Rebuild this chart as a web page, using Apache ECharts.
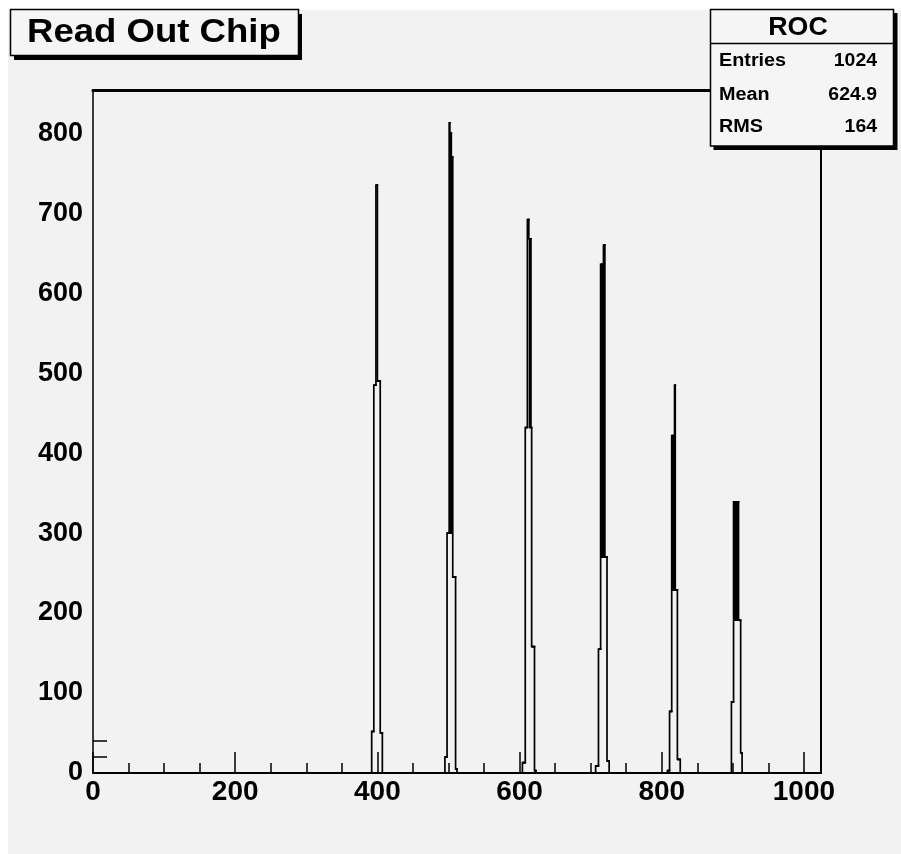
<!DOCTYPE html>
<html>
<head>
<meta charset="utf-8">
<script src="https://cdn.jsdelivr.net/npm/echarts@6/dist/echarts.min.js"></script>
<style>
html, body { margin: 0; padding: 0; background: #ffffff; }
#chart { width: 901px; height: 854px; }
</style>
</head>
<body>
<div id="chart"></div>
<script>
// ---- chart text ----
const titleText = 'Read Out Chip';
const statsTitle = 'ROC';
const statsLabels = ['Entries', 'Mean', 'RMS'];
const statsValues = ['1024', '624.9', '164'];

// ---- axes ----
const xRange = [0, 1024];
const yRange = [0, 854];
const xTickLabels = [0, 200, 400, 600, 800, 1000];
const yTickLabels = [0, 100, 200, 300, 400, 500, 600, 700, 800];
const yShortTicks = [20, 40];
const xMinorStep = 50;

// ---- histogram bins (1 unit wide), each peak: first bin and its counts ----
const peakStarts = [392, 495, 604, 707, 808, 898];
const peak400 = [52, 52, 52, 485, 485, 485, 735, 735, 490, 490, 490, 490, 50, 50, 50];
const peak500 = [20, 20, 20, 300, 300, 300, 813, 300, 800, 300, 770, 245, 245, 245, 245, 5, 5];
const peak600 = [13, 13, 13, 13, 432, 432, 432, 692, 692, 668, 432, 668, 432, 158, 158, 158, 158, 3, 3];
const peak700 = [9, 9, 9, 9, 155, 155, 155, 636, 270, 636, 270, 660, 660, 270, 270, 270, 15, 15, 15];
const peak800 = [3, 3, 3, 77, 77, 77, 422, 229, 422, 229, 485, 229, 229, 229, 17, 17, 17, 17];
const peak900 = [89, 89, 89, 339, 191, 339, 191, 339, 191, 339, 191, 191, 191, 25, 25];
const peaks = [peak400, peak500, peak600, peak700, peak800, peak900];

const nBins = xRange[1] - xRange[0];
const counts = new Array(nBins + 1).fill(0);
peaks.forEach((p, i) => p.forEach((v, j) => { counts[peakStarts[i] + j] = v; }));
// one row per bin: [low edge, high edge, count, previous bin count]
const binRows = [];
for (let i = 0; i <= nBins; i++) {
  const prev = i > 0 ? counts[i - 1] : 0;
  const c = i < nBins ? counts[i] : 0;
  if (c !== 0 || prev !== 0) binRows.push([xRange[0] + i, xRange[0] + i + 1, c, prev]);
}

const xMinor = [];
for (let v = xMinorStep; v < 1000; v += xMinorStep) if (xTickLabels.indexOf(v) < 0) xMinor.push(v);

const FONT = 'Liberation Sans, Arial, Helvetica, sans-serif';
const gridRect = { left: 93, top: 90, right: 80, bottom: 81 };

function renderBin(params, api) {
  const lo = api.value(0), hi = api.value(1), c = api.value(2), prev = api.value(3);
  const pPrev = api.coord([lo, prev]);
  const pLo = api.coord([lo, c]);
  const pts = [pPrev, pLo];
  if (c !== 0 && hi <= xRange[1]) pts.push(api.coord([hi, c]));
  return {
    type: 'polyline',
    shape: { points: pts },
    style: { stroke: '#000', lineWidth: 1.7, fill: null, lineCap: 'square', lineJoin: 'miter' },
    silent: true
  };
}

const chart = echarts.init(document.getElementById('chart'), null, { renderer: 'canvas' });

const rowY = [61, 95, 127];
const option = {
  animation: false,
  backgroundColor: '#ffffff',
  grid: [
    Object.assign({ show: false }, gridRect),
    Object.assign({ show: false }, gridRect)
  ],
  xAxis: [
    {
      gridIndex: 0, type: 'value', min: xRange[0], max: xRange[1], position: 'bottom',
      axisLine: { show: true, onZero: false, lineStyle: { color: '#000', width: 2 } },
      axisTick: { show: true, inside: true, length: 21, customValues: xTickLabels, lineStyle: { color: '#000', width: 1.5 } },
      axisLabel: { show: true, customValues: xTickLabels, formatter: v => String(v), color: '#000', fontWeight: 'bold', fontSize: 28, fontFamily: FONT, margin: 5 },
      splitLine: { show: false }
    },
    {
      gridIndex: 0, type: 'value', min: xRange[0], max: xRange[1], position: 'top',
      axisLine: { show: true, onZero: false, lineStyle: { color: '#000', width: 3 } },
      axisTick: { show: false }, axisLabel: { show: false }, splitLine: { show: false }
    },
    {
      gridIndex: 1, type: 'value', min: xRange[0], max: xRange[1], position: 'bottom',
      axisLine: { show: false },
      axisTick: { show: true, inside: true, length: 10, customValues: xMinor, lineStyle: { color: '#000', width: 1.5 } },
      axisLabel: { show: false }, splitLine: { show: false }
    }
  ],
  yAxis: [
    {
      gridIndex: 0, type: 'value', min: yRange[0], max: yRange[1], position: 'left',
      axisLine: { show: true, onZero: false, lineStyle: { color: '#000', width: 1.5 } },
      axisTick: { show: false },
      axisLabel: { show: true, customValues: yTickLabels, formatter: v => String(v), color: '#000', fontWeight: 'bold', fontSize: 27, fontFamily: FONT, margin: 10 },
      splitLine: { show: false }
    },
    {
      gridIndex: 0, type: 'value', min: yRange[0], max: yRange[1], position: 'right',
      axisLine: { show: true, onZero: false, lineStyle: { color: '#000', width: 2 } },
      axisTick: { show: false }, axisLabel: { show: false }, splitLine: { show: false }
    },
    {
      gridIndex: 1, type: 'value', min: yRange[0], max: yRange[1], position: 'left',
      axisLine: { show: false },
      axisTick: { show: true, inside: true, length: 14, customValues: yShortTicks, lineStyle: { color: '#000', width: 1.5 } },
      axisLabel: { show: false }, splitLine: { show: false }
    }
  ],
  series: [
    {
      type: 'custom', name: 'ROC', xAxisIndex: 0, yAxisIndex: 0,
      silent: true, clip: true,
      renderItem: renderBin,
      encode: { x: [0, 1], y: [2, 3] },
      data: binRows
    }
  ],
  graphic: [
    { type: 'rect', z: -10, silent: true, shape: { x: 8, y: 10, width: 893, height: 844 }, style: { fill: '#f2f2f2' } },
    // title box
    { type: 'rect', z: 100, silent: true, shape: { x: 14, y: 14, width: 288, height: 46 }, style: { fill: '#000' } },
    { type: 'rect', z: 101, silent: true, shape: { x: 10.5, y: 9.5, width: 288, height: 46 }, style: { fill: '#f5f5f5', stroke: '#000', lineWidth: 1.5 } },
    { type: 'text', z: 102, silent: true, x: 27, y: 33, scaleX: 1.075, style: { x: 0, y: 0, text: titleText, fill: '#000', font: 'bold 34px ' + FONT, textVerticalAlign: 'middle', textAlign: 'left' } },
    // stats box
    { type: 'rect', z: 100, silent: true, shape: { x: 713.5, y: 13, width: 184, height: 137 }, style: { fill: '#000' } },
    { type: 'rect', z: 101, silent: true, shape: { x: 710.5, y: 9.5, width: 183, height: 136.5 }, style: { fill: '#f5f5f5', stroke: '#000', lineWidth: 1.5 } },
    { type: 'line', z: 102, silent: true, shape: { x1: 710.5, y1: 43.5, x2: 893.5, y2: 43.5 }, style: { stroke: '#000', lineWidth: 1.5 } },
    { type: 'text', z: 102, silent: true, x: 798, y: 27.5, scaleX: 1.03, style: { x: 0, y: 0, text: statsTitle, fill: '#000', font: 'bold 26px ' + FONT, textVerticalAlign: 'middle', textAlign: 'center' } },
    ...statsLabels.map((t, i) => ({ type: 'text', z: 102, silent: true, x: 719, y: rowY[i], scaleX: 1.1, style: { x: 0, y: 0, text: t, fill: '#000', font: 'bold 18px ' + FONT, textVerticalAlign: 'middle', textAlign: 'left' } })),
    ...statsValues.map((t, i) => ({ type: 'text', z: 102, silent: true, x: 877, y: rowY[i], scaleX: 1.08, style: { x: 0, y: 0, text: t, fill: '#000', font: 'bold 18px ' + FONT, textVerticalAlign: 'middle', textAlign: 'right' } }))
  ]
};
chart.setOption(option);
</script>
</body>
</html>
